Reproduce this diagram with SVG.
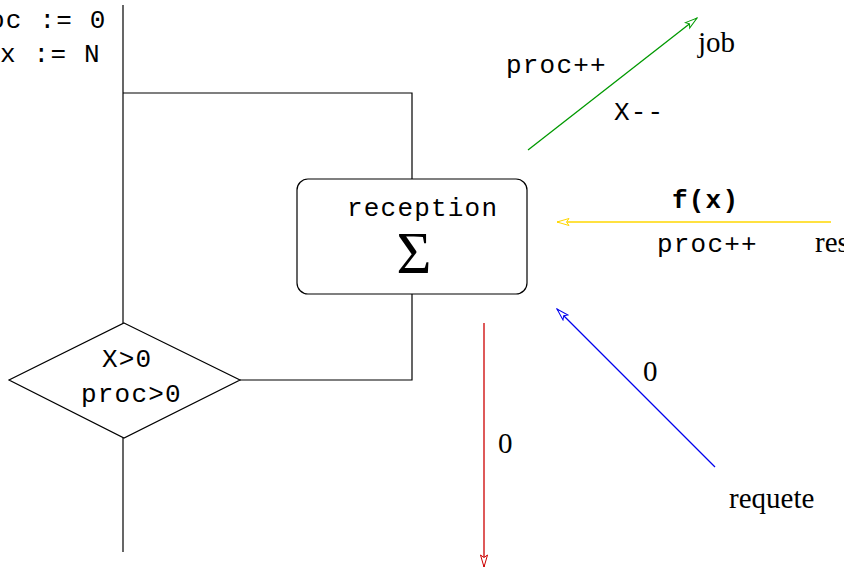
<svg xmlns="http://www.w3.org/2000/svg" width="844" height="568" viewBox="0 0 844 568">
  <style>
    .ln { fill: none; stroke: #000; stroke-width: 1.2; }
    .mono { font-family: "Liberation Mono", "DejaVu Sans Mono", monospace; font-size: 26px; letter-spacing: 1.2px; fill: #000; }
    .serif { font-family: "Liberation Serif", "DejaVu Serif", serif; font-size: 29px; fill: #000; }
  </style>
  <defs>
    <marker id="hGreen" viewBox="0 0 14 9" refX="13" refY="4.5" markerWidth="14" markerHeight="9" markerUnits="userSpaceOnUse" orient="auto">
      <path d="M1,1 L13,4.5 L1,8 L3.5,4.5 Z" fill="#fff" stroke="#009900" stroke-width="1"/>
    </marker>
    <marker id="hYellow" viewBox="0 0 14 9" refX="13" refY="4.5" markerWidth="14" markerHeight="9" markerUnits="userSpaceOnUse" orient="auto">
      <path d="M1,1 L13,4.5 L1,8 L3.5,4.5 Z" fill="#fff" stroke="#ffd700" stroke-width="1"/>
    </marker>
    <marker id="hRed" viewBox="0 0 14 9" refX="13" refY="4.5" markerWidth="14" markerHeight="9" markerUnits="userSpaceOnUse" orient="auto">
      <path d="M1,1 L13,4.5 L1,8 L3.5,4.5 Z" fill="#fff" stroke="#cc0000" stroke-width="1"/>
    </marker>
    <marker id="hBlue" viewBox="0 0 14 9" refX="13" refY="4.5" markerWidth="14" markerHeight="9" markerUnits="userSpaceOnUse" orient="auto">
      <path d="M1,1 L13,4.5 L1,8 L3.5,4.5 Z" fill="#fff" stroke="#0000ee" stroke-width="1"/>
    </marker>
  </defs>

  <!-- initial assignments -->
  <g id="init">
    <text class="mono" x="-11" y="28">oc := 0</text>
    <text class="mono" x="0" y="62">x := N</text>
  </g>

  <!-- flow lines -->
  <g id="connectors">
    <path class="ln" d="M123,5 V323"/>
    <path class="ln" d="M123,93 H412 V179"/>
    <path class="ln" d="M412,294 V380 H240"/>
    <path class="ln" d="M123,438 V552"/>
    <line x1="528" y1="150" x2="697" y2="18" stroke="#009900" stroke-width="1.3" marker-end="url(#hGreen)"/>
    <line x1="831" y1="222" x2="557" y2="222" stroke="#ffd700" stroke-width="1.5" marker-end="url(#hYellow)"/>
    <line x1="484" y1="323" x2="484" y2="567" stroke="#cc0000" stroke-width="1.3" marker-end="url(#hRed)"/>
    <line x1="715" y1="467" x2="557" y2="309" stroke="#0000ee" stroke-width="1.3" marker-end="url(#hBlue)"/>
  </g>

  <!-- reception block -->
  <g id="reception">
    <rect x="297" y="179" width="230" height="115" rx="11" ry="11" class="ln" fill="#fff"/>
    <text class="mono" x="347" y="216">reception</text>
    <text x="414" y="273" text-anchor="middle" font-family="Liberation Serif, DejaVu Serif, serif" font-size="60">Σ</text>
  </g>

  <!-- guard -->
  <g id="guard">
    <polygon points="124,323 240,380 124,438 9,380" class="ln" fill="#fff"/>
    <text class="mono" x="102" y="367">X&gt;0</text>
    <text class="mono" x="81" y="402">proc&gt;0</text>
  </g>

  <!-- job output -->
  <g id="job">
    <text class="mono" x="506" y="73">proc++</text>
    <text class="mono" x="614" y="120">X--</text>
    <text class="serif" x="698" y="52">job</text>
  </g>

  <!-- result input -->
  <g id="res">
    <text class="mono" x="672" y="208" font-weight="bold">f(x)</text>
    <text class="mono" x="657" y="252">proc++</text>
    <text class="serif" x="815" y="252">res</text>
  </g>

  <!-- output -->
  <g id="out">
    <text class="serif" x="498" y="453">0</text>
  </g>

  <!-- request input -->
  <g id="requete">
    <text class="serif" x="643" y="381">0</text>
    <text class="serif" x="729" y="508">requete</text>
  </g>
</svg>
